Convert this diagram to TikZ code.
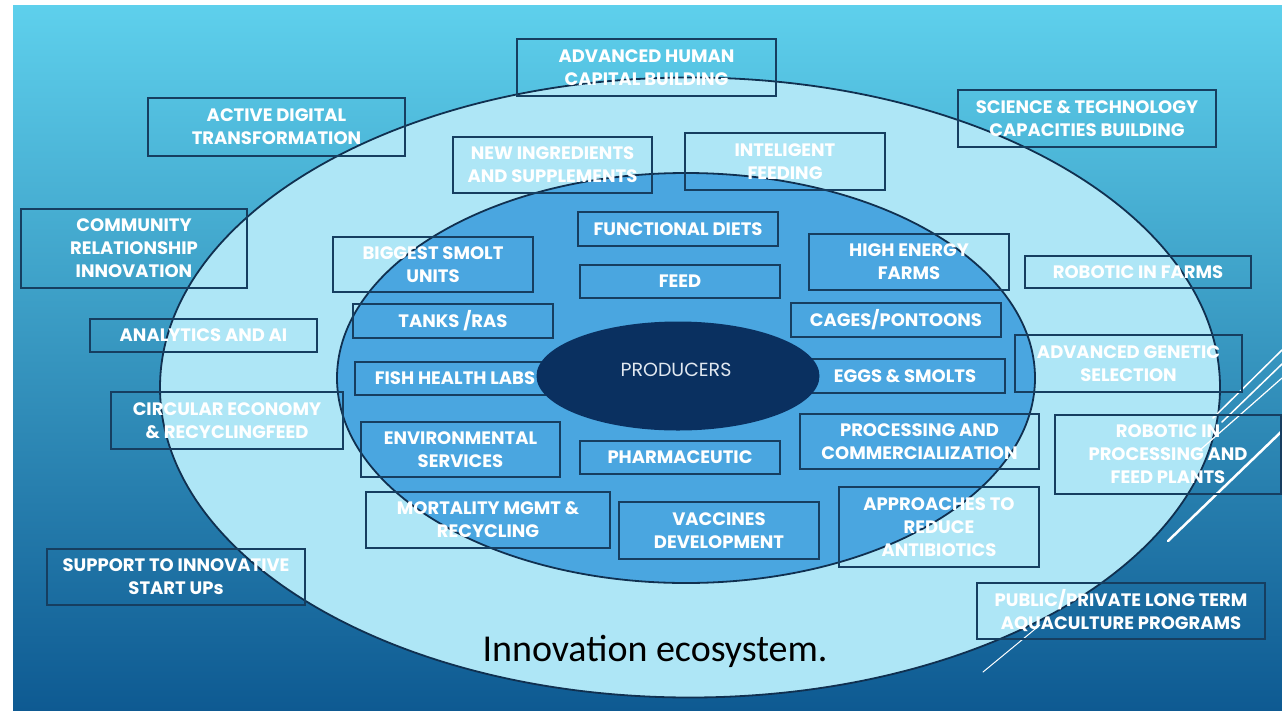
\documentclass[tikz,border=0pt]{standalone}
\usepackage{fontspec}
\setmainfont{Poppins}
\newfontfamily\calfont{Carlito}
\usetikzlibrary{shapes.geometric}
\definecolor{bgtop}{RGB}{94,208,236}
\definecolor{bgbot}{RGB}{14,90,146}
\definecolor{outerfill}{RGB}{174,230,246}
\definecolor{innerfill}{RGB}{74,166,224}
\definecolor{prodfill}{RGB}{10,48,96}
\definecolor{edge}{RGB}{16,48,80}
\definecolor{boxline}{RGB}{22,62,96}
\definecolor{prodtext}{RGB}{225,232,240}
\tikzset{
  box/.style={draw=boxline, line width=1.3pt, text=white, align=center, inner sep=0pt, outer sep=0pt,
    font=\bfseries\fontsize{18}{23}\selectfont},
  ring/.style={draw=edge, line width=1.8pt},
  deco/.style={draw=white, line cap=round},
}
\newcommand\bx[6]{\node[box, minimum width={(#4-#2)*1pt}, minimum height={(#5-#3)*1pt}] (#1) at ({(#2+#4)/2},{(#3+#5)/2}) {#6};}
\begin{document}
\begin{tikzpicture}[x=1pt,y=-1pt]
\useasboundingbox (0,0) rectangle (1282,710);
\fill[white] (0,0) rectangle (1282,710);
\shade[top color=bgtop, bottom color=bgbot] (13,5) rectangle (1282,710);
% rings
\filldraw[ring, fill=outerfill] (690,387.5) ellipse [x radius=530pt, y radius=310pt];
\filldraw[ring, fill=innerfill] (686,378) ellipse [x radius=349pt, y radius=205pt];
% decorative lines
\draw[deco, line width=2.5pt] (1168,541) -- (1282,431);
\draw[deco, line width=1.5pt] (1213,418) -- (1282,350);
\draw[deco, line width=1.5pt] (1222,422) -- (1282,364);
\draw[deco, line width=1.2pt] (1200,450) -- (1282,378);
\draw[deco, line width=1pt] (983,672) -- (1040,625);
% outer boxes
\bx{ahc}{517}{39}{776}{96}{ADVANCED HUMAN\\CAPITAL BUILDING}
\bx{adt}{148}{98}{405}{156}{ACTIVE DIGITAL\\TRANSFORMATION}
\bx{stc}{958}{90}{1216}{147}{SCIENCE \& TECHNOLOGY\\CAPACITIES BUILDING}
\bx{nis}{453}{137}{652}{193}{NEW INGREDIENTS\\AND SUPPLEMENTS}
\bx{inf}{685}{133}{885}{190}{INTELIGENT\\FEEDING}
\bx{cri}{21}{209}{247}{288}{COMMUNITY\\RELATIONSHIP\\INNOVATION}
\bx{aai}{90}{319}{317}{352}{ANALYTICS AND AI}
\bx{cer}{111}{392}{343}{449}{CIRCULAR ECONOMY\\\& RECYCLINGFEED}
\bx{sis}{47}{549}{305}{605}{SUPPORT TO INNOVATIVE\\START UPs}
\bx{rif}{1025}{256}{1251}{288}{ROBOTIC IN FARMS}
\bx{ags}{1015}{335}{1242}{392}{ADVANCED GENETIC\\SELECTION}
\bx{rpf}{1055}{415}{1281}{494}{ROBOTIC IN\\PROCESSING AND\\FEED PLANTS}
\bx{plt}{977}{583}{1265}{639}{PUBLIC/PRIVATE LONG TERM\\AQUACULTURE PROGRAMS}
% inner boxes
\bx{fd}{578}{212}{778}{246}{FUNCTIONAL DIETS}
\bx{bsu}{333}{237}{533}{292}{BIGGEST SMOLT\\UNITS}
\bx{feed}{580}{265}{780}{298}{FEED}
\bx{hef}{809}{234}{1009}{290}{HIGH ENERGY\\FARMS}
\bx{tr}{353}{304}{553}{338}{TANKS /RAS}
\bx{cp}{791}{303}{1001}{337}{CAGES/PONTOONS}
\bx{fhl}{355}{362}{555}{395}{FISH HEALTH LABS}
\bx{es}{805}{359}{1005}{393}{EGGS \& SMOLTS}
\bx{env}{361}{422}{560}{477}{ENVIRONMENTAL\\SERVICES}
\bx{ph}{580}{441}{780}{474}{PHARMACEUTIC}
\bx{pc}{800}{414}{1039}{469}{PROCESSING AND\\COMMERCIALIZATION}
\bx{mm}{366}{492}{610}{548}{MORTALITY MGMT \&\\RECYCLING}
\bx{vd}{619}{502}{819}{559}{VACCINES\\DEVELOPMENT}
\bx{ara}{839}{487}{1039}{567}{APPROACHES TO\\REDUCE\\ANTIBIOTICS}
% producers
\node[ellipse, fill=prodfill, minimum width=283pt, minimum height=109pt, inner sep=0pt] (prod) at (678,376) {};
\node[text=prodtext, font=\fontsize{19}{22}\selectfont] (prodlbl) at (676,370) {PRODUCERS};
% caption
\node[font=\calfont\fontsize{38}{41}\selectfont, text=black] (cap) at (655,651) {Innovation ecosystem.};
\end{tikzpicture}
\end{document}
